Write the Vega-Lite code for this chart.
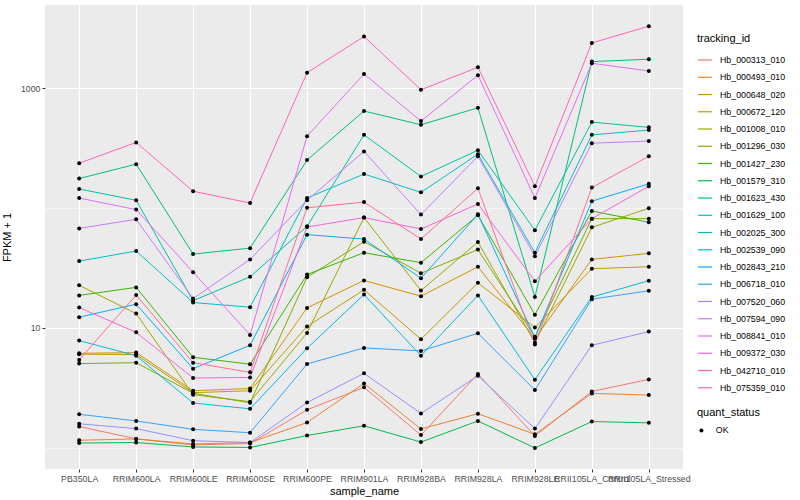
{
  "$schema": "https://vega.github.io/schema/vega-lite/v6.json",
  "width": 638,
  "height": 464,
  "autosize": {"type": "none"},
  "padding": {"left": 45, "top": 5, "right": 117, "bottom": 31},
  "background": "white",
  "config": {
    "font": "Liberation Sans",
    "view": {"fill": "#EBEBEB", "stroke": null}
  },
  "datasets": {
    "expr": [
      {"tracking_id": "Hb_000313_010", "sample_name": "PB350LA", "fpkm1": 1.51, "quant_status": "OK"},
      {"tracking_id": "Hb_000313_010", "sample_name": "RRIM600LA", "fpkm1": 1.19, "quant_status": "OK"},
      {"tracking_id": "Hb_000313_010", "sample_name": "RRIM600LE", "fpkm1": 1.06, "quant_status": "OK"},
      {"tracking_id": "Hb_000313_010", "sample_name": "RRIM600SE", "fpkm1": 1.09, "quant_status": "OK"},
      {"tracking_id": "Hb_000313_010", "sample_name": "RRIM600PE", "fpkm1": 2.08, "quant_status": "OK"},
      {"tracking_id": "Hb_000313_010", "sample_name": "RRIM901LA", "fpkm1": 3.2, "quant_status": "OK"},
      {"tracking_id": "Hb_000313_010", "sample_name": "RRIM928BA", "fpkm1": 1.28, "quant_status": "OK"},
      {"tracking_id": "Hb_000313_010", "sample_name": "RRIM928LA", "fpkm1": 4.14, "quant_status": "OK"},
      {"tracking_id": "Hb_000313_010", "sample_name": "RRIM928LE", "fpkm1": 1.26, "quant_status": "OK"},
      {"tracking_id": "Hb_000313_010", "sample_name": "RRII105LA_Control", "fpkm1": 2.96, "quant_status": "OK"},
      {"tracking_id": "Hb_000313_010", "sample_name": "RRII105LA_Stressed", "fpkm1": 3.73, "quant_status": "OK"},
      {"tracking_id": "Hb_000493_010", "sample_name": "PB350LA", "fpkm1": 1.16, "quant_status": "OK"},
      {"tracking_id": "Hb_000493_010", "sample_name": "RRIM600LA", "fpkm1": 1.19, "quant_status": "OK"},
      {"tracking_id": "Hb_000493_010", "sample_name": "RRIM600LE", "fpkm1": 1.08, "quant_status": "OK"},
      {"tracking_id": "Hb_000493_010", "sample_name": "RRIM600SE", "fpkm1": 1.11, "quant_status": "OK"},
      {"tracking_id": "Hb_000493_010", "sample_name": "RRIM600PE", "fpkm1": 1.63, "quant_status": "OK"},
      {"tracking_id": "Hb_000493_010", "sample_name": "RRIM901LA", "fpkm1": 3.45, "quant_status": "OK"},
      {"tracking_id": "Hb_000493_010", "sample_name": "RRIM928BA", "fpkm1": 1.44, "quant_status": "OK"},
      {"tracking_id": "Hb_000493_010", "sample_name": "RRIM928LA", "fpkm1": 1.93, "quant_status": "OK"},
      {"tracking_id": "Hb_000493_010", "sample_name": "RRIM928LE", "fpkm1": 1.3, "quant_status": "OK"},
      {"tracking_id": "Hb_000493_010", "sample_name": "RRII105LA_Control", "fpkm1": 2.85, "quant_status": "OK"},
      {"tracking_id": "Hb_000493_010", "sample_name": "RRII105LA_Stressed", "fpkm1": 2.76, "quant_status": "OK"},
      {"tracking_id": "Hb_000648_020", "sample_name": "PB350LA", "fpkm1": 6.15, "quant_status": "OK"},
      {"tracking_id": "Hb_000648_020", "sample_name": "RRIM600LA", "fpkm1": 6.24, "quant_status": "OK"},
      {"tracking_id": "Hb_000648_020", "sample_name": "RRIM600LE", "fpkm1": 3.0, "quant_status": "OK"},
      {"tracking_id": "Hb_000648_020", "sample_name": "RRIM600SE", "fpkm1": 3.13, "quant_status": "OK"},
      {"tracking_id": "Hb_000648_020", "sample_name": "RRIM600PE", "fpkm1": 14.7, "quant_status": "OK"},
      {"tracking_id": "Hb_000648_020", "sample_name": "RRIM901LA", "fpkm1": 24.9, "quant_status": "OK"},
      {"tracking_id": "Hb_000648_020", "sample_name": "RRIM928BA", "fpkm1": 18.4, "quant_status": "OK"},
      {"tracking_id": "Hb_000648_020", "sample_name": "RRIM928LA", "fpkm1": 32.4, "quant_status": "OK"},
      {"tracking_id": "Hb_000648_020", "sample_name": "RRIM928LE", "fpkm1": 8.15, "quant_status": "OK"},
      {"tracking_id": "Hb_000648_020", "sample_name": "RRII105LA_Control", "fpkm1": 37.3, "quant_status": "OK"},
      {"tracking_id": "Hb_000648_020", "sample_name": "RRII105LA_Stressed", "fpkm1": 41.9, "quant_status": "OK"},
      {"tracking_id": "Hb_000672_120", "sample_name": "PB350LA", "fpkm1": 6.05, "quant_status": "OK"},
      {"tracking_id": "Hb_000672_120", "sample_name": "RRIM600LA", "fpkm1": 6.0, "quant_status": "OK"},
      {"tracking_id": "Hb_000672_120", "sample_name": "RRIM600LE", "fpkm1": 2.89, "quant_status": "OK"},
      {"tracking_id": "Hb_000672_120", "sample_name": "RRIM600SE", "fpkm1": 3.0, "quant_status": "OK"},
      {"tracking_id": "Hb_000672_120", "sample_name": "RRIM600PE", "fpkm1": 10.3, "quant_status": "OK"},
      {"tracking_id": "Hb_000672_120", "sample_name": "RRIM901LA", "fpkm1": 20.8, "quant_status": "OK"},
      {"tracking_id": "Hb_000672_120", "sample_name": "RRIM928BA", "fpkm1": 8.05, "quant_status": "OK"},
      {"tracking_id": "Hb_000672_120", "sample_name": "RRIM928LA", "fpkm1": 23.8, "quant_status": "OK"},
      {"tracking_id": "Hb_000672_120", "sample_name": "RRIM928LE", "fpkm1": 10.1, "quant_status": "OK"},
      {"tracking_id": "Hb_000672_120", "sample_name": "RRII105LA_Control", "fpkm1": 31.2, "quant_status": "OK"},
      {"tracking_id": "Hb_000672_120", "sample_name": "RRII105LA_Stressed", "fpkm1": 32.4, "quant_status": "OK"},
      {"tracking_id": "Hb_001008_010", "sample_name": "PB350LA", "fpkm1": 22.7, "quant_status": "OK"},
      {"tracking_id": "Hb_001008_010", "sample_name": "RRIM600LA", "fpkm1": 13.2, "quant_status": "OK"},
      {"tracking_id": "Hb_001008_010", "sample_name": "RRIM600LE", "fpkm1": 2.78, "quant_status": "OK"},
      {"tracking_id": "Hb_001008_010", "sample_name": "RRIM600SE", "fpkm1": 2.43, "quant_status": "OK"},
      {"tracking_id": "Hb_001008_010", "sample_name": "RRIM600PE", "fpkm1": 9.1, "quant_status": "OK"},
      {"tracking_id": "Hb_001008_010", "sample_name": "RRIM901LA", "fpkm1": 83.2, "quant_status": "OK"},
      {"tracking_id": "Hb_001008_010", "sample_name": "RRIM928BA", "fpkm1": 20.5, "quant_status": "OK"},
      {"tracking_id": "Hb_001008_010", "sample_name": "RRIM928LA", "fpkm1": 52.0, "quant_status": "OK"},
      {"tracking_id": "Hb_001008_010", "sample_name": "RRIM928LE", "fpkm1": 7.55, "quant_status": "OK"},
      {"tracking_id": "Hb_001008_010", "sample_name": "RRII105LA_Control", "fpkm1": 69.0, "quant_status": "OK"},
      {"tracking_id": "Hb_001008_010", "sample_name": "RRII105LA_Stressed", "fpkm1": 99.5, "quant_status": "OK"},
      {"tracking_id": "Hb_001296_030", "sample_name": "PB350LA", "fpkm1": 5.05, "quant_status": "OK"},
      {"tracking_id": "Hb_001296_030", "sample_name": "RRIM600LA", "fpkm1": 5.14, "quant_status": "OK"},
      {"tracking_id": "Hb_001296_030", "sample_name": "RRIM600LE", "fpkm1": 2.86, "quant_status": "OK"},
      {"tracking_id": "Hb_001296_030", "sample_name": "RRIM600SE", "fpkm1": 2.38, "quant_status": "OK"},
      {"tracking_id": "Hb_001296_030", "sample_name": "RRIM600PE", "fpkm1": 26.5, "quant_status": "OK"},
      {"tracking_id": "Hb_001296_030", "sample_name": "RRIM901LA", "fpkm1": 52.4, "quant_status": "OK"},
      {"tracking_id": "Hb_001296_030", "sample_name": "RRIM928BA", "fpkm1": 28.6, "quant_status": "OK"},
      {"tracking_id": "Hb_001296_030", "sample_name": "RRIM928LA", "fpkm1": 45.0, "quant_status": "OK"},
      {"tracking_id": "Hb_001296_030", "sample_name": "RRIM928LE", "fpkm1": 8.47, "quant_status": "OK"},
      {"tracking_id": "Hb_001296_030", "sample_name": "RRII105LA_Control", "fpkm1": 81.5, "quant_status": "OK"},
      {"tracking_id": "Hb_001296_030", "sample_name": "RRII105LA_Stressed", "fpkm1": 81.5, "quant_status": "OK"},
      {"tracking_id": "Hb_001427_230", "sample_name": "PB350LA", "fpkm1": 18.7, "quant_status": "OK"},
      {"tracking_id": "Hb_001427_230", "sample_name": "RRIM600LA", "fpkm1": 21.8, "quant_status": "OK"},
      {"tracking_id": "Hb_001427_230", "sample_name": "RRIM600LE", "fpkm1": 5.7, "quant_status": "OK"},
      {"tracking_id": "Hb_001427_230", "sample_name": "RRIM600SE", "fpkm1": 4.99, "quant_status": "OK"},
      {"tracking_id": "Hb_001427_230", "sample_name": "RRIM600PE", "fpkm1": 27.9, "quant_status": "OK"},
      {"tracking_id": "Hb_001427_230", "sample_name": "RRIM901LA", "fpkm1": 42.4, "quant_status": "OK"},
      {"tracking_id": "Hb_001427_230", "sample_name": "RRIM928BA", "fpkm1": 35.0, "quant_status": "OK"},
      {"tracking_id": "Hb_001427_230", "sample_name": "RRIM928LA", "fpkm1": 86.9, "quant_status": "OK"},
      {"tracking_id": "Hb_001427_230", "sample_name": "RRIM928LE", "fpkm1": 12.9, "quant_status": "OK"},
      {"tracking_id": "Hb_001427_230", "sample_name": "RRII105LA_Control", "fpkm1": 94.4, "quant_status": "OK"},
      {"tracking_id": "Hb_001427_230", "sample_name": "RRII105LA_Stressed", "fpkm1": 76.0, "quant_status": "OK"},
      {"tracking_id": "Hb_001579_310", "sample_name": "PB350LA", "fpkm1": 1.1, "quant_status": "OK"},
      {"tracking_id": "Hb_001579_310", "sample_name": "RRIM600LA", "fpkm1": 1.11, "quant_status": "OK"},
      {"tracking_id": "Hb_001579_310", "sample_name": "RRIM600LE", "fpkm1": 1.02, "quant_status": "OK"},
      {"tracking_id": "Hb_001579_310", "sample_name": "RRIM600SE", "fpkm1": 1.01, "quant_status": "OK"},
      {"tracking_id": "Hb_001579_310", "sample_name": "RRIM600PE", "fpkm1": 1.27, "quant_status": "OK"},
      {"tracking_id": "Hb_001579_310", "sample_name": "RRIM901LA", "fpkm1": 1.53, "quant_status": "OK"},
      {"tracking_id": "Hb_001579_310", "sample_name": "RRIM928BA", "fpkm1": 1.12, "quant_status": "OK"},
      {"tracking_id": "Hb_001579_310", "sample_name": "RRIM928LA", "fpkm1": 1.68, "quant_status": "OK"},
      {"tracking_id": "Hb_001579_310", "sample_name": "RRIM928LE", "fpkm1": 1.0, "quant_status": "OK"},
      {"tracking_id": "Hb_001579_310", "sample_name": "RRII105LA_Control", "fpkm1": 1.66, "quant_status": "OK"},
      {"tracking_id": "Hb_001579_310", "sample_name": "RRII105LA_Stressed", "fpkm1": 1.62, "quant_status": "OK"},
      {"tracking_id": "Hb_001623_430", "sample_name": "PB350LA", "fpkm1": 176, "quant_status": "OK"},
      {"tracking_id": "Hb_001623_430", "sample_name": "RRIM600LA", "fpkm1": 232, "quant_status": "OK"},
      {"tracking_id": "Hb_001623_430", "sample_name": "RRIM600LE", "fpkm1": 41.3, "quant_status": "OK"},
      {"tracking_id": "Hb_001623_430", "sample_name": "RRIM600SE", "fpkm1": 46.3, "quant_status": "OK"},
      {"tracking_id": "Hb_001623_430", "sample_name": "RRIM600PE", "fpkm1": 251, "quant_status": "OK"},
      {"tracking_id": "Hb_001623_430", "sample_name": "RRIM901LA", "fpkm1": 643, "quant_status": "OK"},
      {"tracking_id": "Hb_001623_430", "sample_name": "RRIM928BA", "fpkm1": 494, "quant_status": "OK"},
      {"tracking_id": "Hb_001623_430", "sample_name": "RRIM928LA", "fpkm1": 684, "quant_status": "OK"},
      {"tracking_id": "Hb_001623_430", "sample_name": "RRIM928LE", "fpkm1": 18.1, "quant_status": "OK"},
      {"tracking_id": "Hb_001623_430", "sample_name": "RRII105LA_Control", "fpkm1": 1660, "quant_status": "OK"},
      {"tracking_id": "Hb_001623_430", "sample_name": "RRII105LA_Stressed", "fpkm1": 1738, "quant_status": "OK"},
      {"tracking_id": "Hb_001629_100", "sample_name": "PB350LA", "fpkm1": 144, "quant_status": "OK"},
      {"tracking_id": "Hb_001629_100", "sample_name": "RRIM600LA", "fpkm1": 116, "quant_status": "OK"},
      {"tracking_id": "Hb_001629_100", "sample_name": "RRIM600LE", "fpkm1": 16.9, "quant_status": "OK"},
      {"tracking_id": "Hb_001629_100", "sample_name": "RRIM600SE", "fpkm1": 26.7, "quant_status": "OK"},
      {"tracking_id": "Hb_001629_100", "sample_name": "RRIM600PE", "fpkm1": 70.3, "quant_status": "OK"},
      {"tracking_id": "Hb_001629_100", "sample_name": "RRIM901LA", "fpkm1": 407, "quant_status": "OK"},
      {"tracking_id": "Hb_001629_100", "sample_name": "RRIM928BA", "fpkm1": 183, "quant_status": "OK"},
      {"tracking_id": "Hb_001629_100", "sample_name": "RRIM928LA", "fpkm1": 303, "quant_status": "OK"},
      {"tracking_id": "Hb_001629_100", "sample_name": "RRIM928LE", "fpkm1": 65.2, "quant_status": "OK"},
      {"tracking_id": "Hb_001629_100", "sample_name": "RRII105LA_Control", "fpkm1": 520, "quant_status": "OK"},
      {"tracking_id": "Hb_001629_100", "sample_name": "RRII105LA_Stressed", "fpkm1": 470, "quant_status": "OK"},
      {"tracking_id": "Hb_002025_300", "sample_name": "PB350LA", "fpkm1": 36.1, "quant_status": "OK"},
      {"tracking_id": "Hb_002025_300", "sample_name": "RRIM600LA", "fpkm1": 43.8, "quant_status": "OK"},
      {"tracking_id": "Hb_002025_300", "sample_name": "RRIM600LE", "fpkm1": 16.3, "quant_status": "OK"},
      {"tracking_id": "Hb_002025_300", "sample_name": "RRIM600SE", "fpkm1": 14.9, "quant_status": "OK"},
      {"tracking_id": "Hb_002025_300", "sample_name": "RRIM600PE", "fpkm1": 121, "quant_status": "OK"},
      {"tracking_id": "Hb_002025_300", "sample_name": "RRIM901LA", "fpkm1": 192, "quant_status": "OK"},
      {"tracking_id": "Hb_002025_300", "sample_name": "RRIM928BA", "fpkm1": 135, "quant_status": "OK"},
      {"tracking_id": "Hb_002025_300", "sample_name": "RRIM928LA", "fpkm1": 281, "quant_status": "OK"},
      {"tracking_id": "Hb_002025_300", "sample_name": "RRIM928LE", "fpkm1": 42.4, "quant_status": "OK"},
      {"tracking_id": "Hb_002025_300", "sample_name": "RRII105LA_Control", "fpkm1": 407, "quant_status": "OK"},
      {"tracking_id": "Hb_002025_300", "sample_name": "RRII105LA_Stressed", "fpkm1": 446, "quant_status": "OK"},
      {"tracking_id": "Hb_002539_090", "sample_name": "PB350LA", "fpkm1": 7.85, "quant_status": "OK"},
      {"tracking_id": "Hb_002539_090", "sample_name": "RRIM600LA", "fpkm1": 5.88, "quant_status": "OK"},
      {"tracking_id": "Hb_002539_090", "sample_name": "RRIM600LE", "fpkm1": 2.37, "quant_status": "OK"},
      {"tracking_id": "Hb_002539_090", "sample_name": "RRIM600SE", "fpkm1": 2.12, "quant_status": "OK"},
      {"tracking_id": "Hb_002539_090", "sample_name": "RRIM600PE", "fpkm1": 6.77, "quant_status": "OK"},
      {"tracking_id": "Hb_002539_090", "sample_name": "RRIM901LA", "fpkm1": 19.0, "quant_status": "OK"},
      {"tracking_id": "Hb_002539_090", "sample_name": "RRIM928BA", "fpkm1": 5.88, "quant_status": "OK"},
      {"tracking_id": "Hb_002539_090", "sample_name": "RRIM928LA", "fpkm1": 18.7, "quant_status": "OK"},
      {"tracking_id": "Hb_002539_090", "sample_name": "RRIM928LE", "fpkm1": 3.71, "quant_status": "OK"},
      {"tracking_id": "Hb_002539_090", "sample_name": "RRII105LA_Control", "fpkm1": 18.1, "quant_status": "OK"},
      {"tracking_id": "Hb_002539_090", "sample_name": "RRII105LA_Stressed", "fpkm1": 24.8, "quant_status": "OK"},
      {"tracking_id": "Hb_002843_210", "sample_name": "PB350LA", "fpkm1": 12.3, "quant_status": "OK"},
      {"tracking_id": "Hb_002843_210", "sample_name": "RRIM600LA", "fpkm1": 15.8, "quant_status": "OK"},
      {"tracking_id": "Hb_002843_210", "sample_name": "RRIM600LE", "fpkm1": 4.58, "quant_status": "OK"},
      {"tracking_id": "Hb_002843_210", "sample_name": "RRIM600SE", "fpkm1": 7.18, "quant_status": "OK"},
      {"tracking_id": "Hb_002843_210", "sample_name": "RRIM600PE", "fpkm1": 60.0, "quant_status": "OK"},
      {"tracking_id": "Hb_002843_210", "sample_name": "RRIM901LA", "fpkm1": 55.1, "quant_status": "OK"},
      {"tracking_id": "Hb_002843_210", "sample_name": "RRIM928BA", "fpkm1": 26.0, "quant_status": "OK"},
      {"tracking_id": "Hb_002843_210", "sample_name": "RRIM928LA", "fpkm1": 88.5, "quant_status": "OK"},
      {"tracking_id": "Hb_002843_210", "sample_name": "RRIM928LE", "fpkm1": 8.32, "quant_status": "OK"},
      {"tracking_id": "Hb_002843_210", "sample_name": "RRII105LA_Control", "fpkm1": 114, "quant_status": "OK"},
      {"tracking_id": "Hb_002843_210", "sample_name": "RRII105LA_Stressed", "fpkm1": 159, "quant_status": "OK"},
      {"tracking_id": "Hb_006718_010", "sample_name": "PB350LA", "fpkm1": 1.91, "quant_status": "OK"},
      {"tracking_id": "Hb_006718_010", "sample_name": "RRIM600LA", "fpkm1": 1.68, "quant_status": "OK"},
      {"tracking_id": "Hb_006718_010", "sample_name": "RRIM600LE", "fpkm1": 1.43, "quant_status": "OK"},
      {"tracking_id": "Hb_006718_010", "sample_name": "RRIM600SE", "fpkm1": 1.34, "quant_status": "OK"},
      {"tracking_id": "Hb_006718_010", "sample_name": "RRIM600PE", "fpkm1": 5.01, "quant_status": "OK"},
      {"tracking_id": "Hb_006718_010", "sample_name": "RRIM901LA", "fpkm1": 6.82, "quant_status": "OK"},
      {"tracking_id": "Hb_006718_010", "sample_name": "RRIM928BA", "fpkm1": 6.44, "quant_status": "OK"},
      {"tracking_id": "Hb_006718_010", "sample_name": "RRIM928LA", "fpkm1": 9.03, "quant_status": "OK"},
      {"tracking_id": "Hb_006718_010", "sample_name": "RRIM928LE", "fpkm1": 3.04, "quant_status": "OK"},
      {"tracking_id": "Hb_006718_010", "sample_name": "RRII105LA_Control", "fpkm1": 17.4, "quant_status": "OK"},
      {"tracking_id": "Hb_006718_010", "sample_name": "RRII105LA_Stressed", "fpkm1": 20.4, "quant_status": "OK"},
      {"tracking_id": "Hb_007520_060", "sample_name": "PB350LA", "fpkm1": 1.59, "quant_status": "OK"},
      {"tracking_id": "Hb_007520_060", "sample_name": "RRIM600LA", "fpkm1": 1.45, "quant_status": "OK"},
      {"tracking_id": "Hb_007520_060", "sample_name": "RRIM600LE", "fpkm1": 1.15, "quant_status": "OK"},
      {"tracking_id": "Hb_007520_060", "sample_name": "RRIM600SE", "fpkm1": 1.11, "quant_status": "OK"},
      {"tracking_id": "Hb_007520_060", "sample_name": "RRIM600PE", "fpkm1": 2.39, "quant_status": "OK"},
      {"tracking_id": "Hb_007520_060", "sample_name": "RRIM901LA", "fpkm1": 4.19, "quant_status": "OK"},
      {"tracking_id": "Hb_007520_060", "sample_name": "RRIM928BA", "fpkm1": 1.94, "quant_status": "OK"},
      {"tracking_id": "Hb_007520_060", "sample_name": "RRIM928LA", "fpkm1": 4.0, "quant_status": "OK"},
      {"tracking_id": "Hb_007520_060", "sample_name": "RRIM928LE", "fpkm1": 1.45, "quant_status": "OK"},
      {"tracking_id": "Hb_007520_060", "sample_name": "RRII105LA_Control", "fpkm1": 7.18, "quant_status": "OK"},
      {"tracking_id": "Hb_007520_060", "sample_name": "RRII105LA_Stressed", "fpkm1": 9.33, "quant_status": "OK"},
      {"tracking_id": "Hb_007594_090", "sample_name": "PB350LA", "fpkm1": 67.6, "quant_status": "OK"},
      {"tracking_id": "Hb_007594_090", "sample_name": "RRIM600LA", "fpkm1": 80.5, "quant_status": "OK"},
      {"tracking_id": "Hb_007594_090", "sample_name": "RRIM600LE", "fpkm1": 17.6, "quant_status": "OK"},
      {"tracking_id": "Hb_007594_090", "sample_name": "RRIM600SE", "fpkm1": 37.3, "quant_status": "OK"},
      {"tracking_id": "Hb_007594_090", "sample_name": "RRIM600PE", "fpkm1": 116, "quant_status": "OK"},
      {"tracking_id": "Hb_007594_090", "sample_name": "RRIM901LA", "fpkm1": 296, "quant_status": "OK"},
      {"tracking_id": "Hb_007594_090", "sample_name": "RRIM928BA", "fpkm1": 88.1, "quant_status": "OK"},
      {"tracking_id": "Hb_007594_090", "sample_name": "RRIM928LA", "fpkm1": 270, "quant_status": "OK"},
      {"tracking_id": "Hb_007594_090", "sample_name": "RRIM928LE", "fpkm1": 39.7, "quant_status": "OK"},
      {"tracking_id": "Hb_007594_090", "sample_name": "RRII105LA_Control", "fpkm1": 347, "quant_status": "OK"},
      {"tracking_id": "Hb_007594_090", "sample_name": "RRII105LA_Stressed", "fpkm1": 361, "quant_status": "OK"},
      {"tracking_id": "Hb_008841_010", "sample_name": "PB350LA", "fpkm1": 121, "quant_status": "OK"},
      {"tracking_id": "Hb_008841_010", "sample_name": "RRIM600LA", "fpkm1": 97.0, "quant_status": "OK"},
      {"tracking_id": "Hb_008841_010", "sample_name": "RRIM600LE", "fpkm1": 29.2, "quant_status": "OK"},
      {"tracking_id": "Hb_008841_010", "sample_name": "RRIM600SE", "fpkm1": 8.75, "quant_status": "OK"},
      {"tracking_id": "Hb_008841_010", "sample_name": "RRIM600PE", "fpkm1": 397, "quant_status": "OK"},
      {"tracking_id": "Hb_008841_010", "sample_name": "RRIM901LA", "fpkm1": 1309, "quant_status": "OK"},
      {"tracking_id": "Hb_008841_010", "sample_name": "RRIM928BA", "fpkm1": 530, "quant_status": "OK"},
      {"tracking_id": "Hb_008841_010", "sample_name": "RRIM928LA", "fpkm1": 1277, "quant_status": "OK"},
      {"tracking_id": "Hb_008841_010", "sample_name": "RRIM928LE", "fpkm1": 121, "quant_status": "OK"},
      {"tracking_id": "Hb_008841_010", "sample_name": "RRII105LA_Control", "fpkm1": 1607, "quant_status": "OK"},
      {"tracking_id": "Hb_008841_010", "sample_name": "RRII105LA_Stressed", "fpkm1": 1387, "quant_status": "OK"},
      {"tracking_id": "Hb_009372_030", "sample_name": "PB350LA", "fpkm1": 14.8, "quant_status": "OK"},
      {"tracking_id": "Hb_009372_030", "sample_name": "RRIM600LA", "fpkm1": 9.2, "quant_status": "OK"},
      {"tracking_id": "Hb_009372_030", "sample_name": "RRIM600LE", "fpkm1": 3.83, "quant_status": "OK"},
      {"tracking_id": "Hb_009372_030", "sample_name": "RRIM600SE", "fpkm1": 3.87, "quant_status": "OK"},
      {"tracking_id": "Hb_009372_030", "sample_name": "RRIM600PE", "fpkm1": 69.4, "quant_status": "OK"},
      {"tracking_id": "Hb_009372_030", "sample_name": "RRIM901LA", "fpkm1": 83.2, "quant_status": "OK"},
      {"tracking_id": "Hb_009372_030", "sample_name": "RRIM928BA", "fpkm1": 66.8, "quant_status": "OK"},
      {"tracking_id": "Hb_009372_030", "sample_name": "RRIM928LA", "fpkm1": 108, "quant_status": "OK"},
      {"tracking_id": "Hb_009372_030", "sample_name": "RRIM928LE", "fpkm1": 24.5, "quant_status": "OK"},
      {"tracking_id": "Hb_009372_030", "sample_name": "RRII105LA_Control", "fpkm1": 81.5, "quant_status": "OK"},
      {"tracking_id": "Hb_009372_030", "sample_name": "RRII105LA_Stressed", "fpkm1": 152, "quant_status": "OK"},
      {"tracking_id": "Hb_042710_010", "sample_name": "PB350LA", "fpkm1": 236, "quant_status": "OK"},
      {"tracking_id": "Hb_042710_010", "sample_name": "RRIM600LA", "fpkm1": 352, "quant_status": "OK"},
      {"tracking_id": "Hb_042710_010", "sample_name": "RRIM600LE", "fpkm1": 138, "quant_status": "OK"},
      {"tracking_id": "Hb_042710_010", "sample_name": "RRIM600SE", "fpkm1": 110, "quant_status": "OK"},
      {"tracking_id": "Hb_042710_010", "sample_name": "RRIM600PE", "fpkm1": 1343, "quant_status": "OK"},
      {"tracking_id": "Hb_042710_010", "sample_name": "RRIM901LA", "fpkm1": 2685, "quant_status": "OK"},
      {"tracking_id": "Hb_042710_010", "sample_name": "RRIM928BA", "fpkm1": 968, "quant_status": "OK"},
      {"tracking_id": "Hb_042710_010", "sample_name": "RRIM928LA", "fpkm1": 1489, "quant_status": "OK"},
      {"tracking_id": "Hb_042710_010", "sample_name": "RRIM928LE", "fpkm1": 152, "quant_status": "OK"},
      {"tracking_id": "Hb_042710_010", "sample_name": "RRII105LA_Control", "fpkm1": 2377, "quant_status": "OK"},
      {"tracking_id": "Hb_042710_010", "sample_name": "RRII105LA_Stressed", "fpkm1": 3275, "quant_status": "OK"},
      {"tracking_id": "Hb_075359_010", "sample_name": "PB350LA", "fpkm1": 5.42, "quant_status": "OK"},
      {"tracking_id": "Hb_075359_010", "sample_name": "RRIM600LA", "fpkm1": 18.8, "quant_status": "OK"},
      {"tracking_id": "Hb_075359_010", "sample_name": "RRIM600LE", "fpkm1": 5.14, "quant_status": "OK"},
      {"tracking_id": "Hb_075359_010", "sample_name": "RRIM600SE", "fpkm1": 4.27, "quant_status": "OK"},
      {"tracking_id": "Hb_075359_010", "sample_name": "RRIM600PE", "fpkm1": 100.4, "quant_status": "OK"},
      {"tracking_id": "Hb_075359_010", "sample_name": "RRIM901LA", "fpkm1": 112, "quant_status": "OK"},
      {"tracking_id": "Hb_075359_010", "sample_name": "RRIM928BA", "fpkm1": 55.1, "quant_status": "OK"},
      {"tracking_id": "Hb_075359_010", "sample_name": "RRIM928LA", "fpkm1": 146, "quant_status": "OK"},
      {"tracking_id": "Hb_075359_010", "sample_name": "RRIM928LE", "fpkm1": 7.27, "quant_status": "OK"},
      {"tracking_id": "Hb_075359_010", "sample_name": "RRII105LA_Control", "fpkm1": 148, "quant_status": "OK"},
      {"tracking_id": "Hb_075359_010", "sample_name": "RRII105LA_Stressed", "fpkm1": 270, "quant_status": "OK"}
    ]
  },
  "data": {"name": "expr"},
  "encoding": {
    "x": {
      "field": "sample_name",
      "type": "nominal",
      "sort": ["PB350LA", "RRIM600LA", "RRIM600LE", "RRIM600SE", "RRIM600PE", "RRIM901LA", "RRIM928BA", "RRIM928LA", "RRIM928LE", "RRII105LA_Control", "RRII105LA_Stressed"],
      "scale": {"type": "point", "padding": 0.6},
      "axis": {
        "title": "sample_name",
        "labelAngle": 0,
        "labelOverlap": false,
        "labelLimit": 1000,
        "labelFontSize": 8.8,
        "labelColor": "#4D4D4D",
        "labelPadding": 2,
        "domain": false,
        "ticks": true,
        "tickColor": "#333333",
        "tickSize": 3,
        "grid": true,
        "gridColor": "#FFFFFF",
        "gridWidth": 1.1,
        "titleFontSize": 11,
        "titleFontWeight": "normal",
        "titleColor": "#000000",
        "titlePadding": 3
      }
    },
    "y": {
      "field": "fpkm1",
      "type": "quantitative",
      "scale": {"type": "log", "domain": [0.668, 4920], "nice": false, "zero": false},
      "axis": {
        "title": "FPKM + 1",
        "values": [1, 10, 100, 1000],
        "format": "d",
        "labelExpr": "datum.value === 10 || datum.value === 1000 ? datum.label : ''",
        "labelFontSize": 8.8,
        "labelColor": "#4D4D4D",
        "labelPadding": 2,
        "domain": false,
        "tickColor": "#333333",
        "tickSize": 3,
        "tickOpacity": {"condition": {"test": "datum.value === 10 || datum.value === 1000", "value": 1}, "value": 0},
        "grid": true,
        "gridColor": "#FFFFFF",
        "gridWidth": {"condition": {"test": "datum.value === 10 || datum.value === 1000", "value": 1.1}, "value": 0.55},
        "titleFontSize": 11,
        "titleFontWeight": "normal",
        "titleColor": "#000000",
        "titlePadding": 8
      }
    }
  },
  "layer": [
    {
      "mark": {"type": "line", "strokeWidth": 1},
      "encoding": {
        "order": {"value": null},
        "color": {
          "field": "tracking_id",
          "type": "nominal",
          "scale": {
            "domain": ["Hb_000313_010", "Hb_000493_010", "Hb_000648_020", "Hb_000672_120", "Hb_001008_010", "Hb_001296_030", "Hb_001427_230", "Hb_001579_310", "Hb_001623_430", "Hb_001629_100", "Hb_002025_300", "Hb_002539_090", "Hb_002843_210", "Hb_006718_010", "Hb_007520_060", "Hb_007594_090", "Hb_008841_010", "Hb_009372_030", "Hb_042710_010", "Hb_075359_010"],
            "range": ["#F8766D", "#EA8331", "#D89000", "#C09B00", "#A3A500", "#7CAE00", "#39B600", "#00BB4E", "#00BF7D", "#00C1A3", "#00BFC4", "#00BAE0", "#00B0F6", "#35A2FF", "#9590FF", "#C77CFF", "#E76BF3", "#FA62DB", "#FF62BC", "#FF6C91"]
          },
          "legend": {
            "title": "tracking_id",
            "orient": "none",
            "legendX": 652,
            "legendY": 28,
            "symbolType": "stroke",
            "symbolSize": 200,
            "symbolStrokeWidth": 1.2,
            "labelFontSize": 8.8,
            "labelColor": "#000000",
            "titleFontSize": 11,
            "titleFontWeight": "normal",
            "titleColor": "#000000",
            "titlePadding": 8,
            "rowPadding": 4.25,
            "labelOffset": 7
          }
        }
      }
    },
    {
      "mark": {"type": "point", "filled": true, "color": "#000000", "size": 16, "opacity": 1},
      "encoding": {
        "shape": {
          "field": "quant_status",
          "type": "nominal",
          "scale": {"range": ["circle"]},
          "legend": {
            "title": "quant_status",
            "orient": "none",
            "legendX": 652,
            "legendY": 402,
            "symbolFillColor": "#000000",
            "symbolStrokeColor": "#000000",
            "symbolSize": 16,
            "labelFontSize": 8.8,
            "labelColor": "#000000",
            "titleFontSize": 11,
            "titleFontWeight": "normal",
            "titleColor": "#000000",
            "titlePadding": 8,
            "labelOffset": 10
          }
        }
      }
    }
  ]
}
